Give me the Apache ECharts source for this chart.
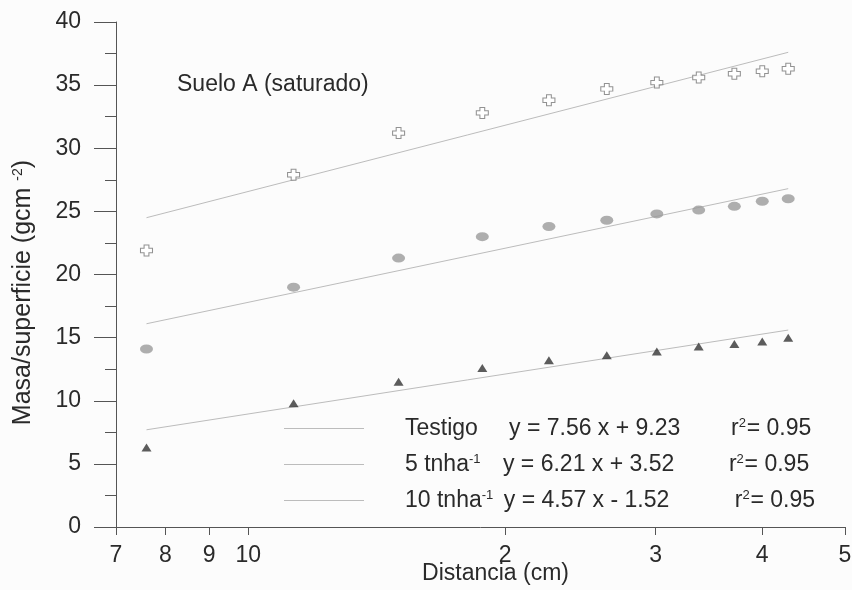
<!DOCTYPE html>
<html>
<head>
<meta charset="utf-8">
<script src="https://cdn.jsdelivr.net/npm/echarts@6/dist/echarts.min.js"></script>
<style>
html,body{margin:0;padding:0;background:#fcfcfc;}
#c{width:852px;height:590px;}
</style>
</head>
<body>
<div id="c"></div>
<script>
// ---- data ----
var distance = [7.6, 11.3, 15.0, 18.8, 22.5, 26.3, 30.1, 33.7, 37.1, 40.0, 42.9];
var testigo  = [21.9, 27.9, 31.2, 32.8, 33.8, 34.7, 35.2, 35.6, 35.9, 36.1, 36.3];
var t5       = [14.1, 19.0, 21.3, 23.0, 23.8, 24.3, 24.8, 25.1, 25.4, 25.8, 26.0];
var t10      = [6.3, 9.8, 11.5, 12.6, 13.2, 13.6, 13.9, 14.3, 14.5, 14.7, 15.0];
var fitX        = [7.6, 42.9];
var fitTestigo  = [24.5, 37.6];
var fit5        = [16.1, 26.8];
var fit10       = [7.7, 15.6];
var xTickValues = [7, 8, 9, 10, 20, 30, 40, 50];
var xTickLabels = ['7', '8', '9', '10', '2', '3', '4', '5'];
var legendNames = ['Testigo', '5 tnha-1', '10 tnha-1'];

function pairs(xs, ys) { return xs.map(function (x, i) { return [x, ys[i]]; }); }

var FONT = 'Liberation Sans';
var TXT = '#2a2a2a';
var FS = 23;
var LINEC = '#bcbcbc';

var chart = echarts.init(document.getElementById('c'), null, {renderer: 'canvas'});

var crossPath = 'path://M3,0L7,0L7,3L10,3L10,7L7,7L7,10L3,10L3,7L0,7L0,3L3,3Z';

var legendRich = {
  n1: {fontFamily: FONT, fontSize: FS, color: TXT, width: 104, padding: [0, 0, 0, 36]},
  n:  {fontFamily: FONT, fontSize: FS, color: TXT, padding: [0, 0, 0, 36]},
  s2: {fontFamily: FONT, fontSize: 13, color: TXT, verticalAlign: 'top', lineHeight: 14, width: 34},
  s3: {fontFamily: FONT, fontSize: 13, color: TXT, verticalAlign: 'top', lineHeight: 14, width: 22},
  e1: {fontFamily: FONT, fontSize: FS, color: TXT, width: 222},
  e2: {fontFamily: FONT, fontSize: FS, color: TXT, width: 226},
  e3: {fontFamily: FONT, fontSize: FS, color: TXT, width: 231},
  r:  {fontFamily: FONT, fontSize: FS, color: TXT},
  s:  {fontFamily: FONT, fontSize: 13, color: TXT, verticalAlign: 'top', lineHeight: 14, width: 8},
  t:  {fontFamily: FONT, fontSize: FS, color: TXT}
};
var legendText = {
  'Testigo':   '{n1|Testigo}{e1|y = 7.56 x + 9.23}{r|r}{s|2}{t|= 0.95}',
  '5 tnha-1':  '{n|5 tnha}{s2|-1}{e2|y = 6.21 x + 3.52}{r|r}{s|2}{t|= 0.95}',
  '10 tnha-1': '{n|10 tnha}{s3|-1}{e3|y = 4.57 x - 1.52}{r|r}{s|2}{t|= 0.95}'
};

var option = {
  backgroundColor: '#fcfcfc',
  animation: false,
  title: {
    text: 'Suelo A (saturado)',
    left: 172, top: 68,
    textStyle: {fontFamily: FONT, fontSize: FS, fontWeight: 'normal', color: TXT}
  },
  grid: {left: 116, right: 7, top: 22, bottom: 63, containLabel: false, outerBoundsMode: 'none'},
  legend: {
    data: legendNames,
    orient: 'vertical',
    left: 279, top: 412,
    icon: 'rect',
    itemWidth: 80, itemHeight: 1, itemGap: 13,
    itemStyle: {color: LINEC, borderWidth: 0},
    formatter: function (name) { return legendText[name]; },
    textStyle: {rich: legendRich, fontFamily: FONT, fontSize: FS, color: TXT},
    selectedMode: false
  },
  xAxis: {
    type: 'log', logBase: 10, min: 7, max: 50,
    name: 'Distancia (cm)', nameLocation: 'middle', nameGap: 35, nameMoveOverlap: false,
    nameTextStyle: {fontFamily: FONT, fontSize: FS, color: TXT, padding: [0, 0, 0, 30]},
    axisLine: {show: true, onZero: false, lineStyle: {color: '#555', width: 1}},
    axisTick: {show: true, inside: false, length: 8, lineStyle: {color: '#555'}, customValues: xTickValues},
    axisLabel: {
      margin: 17, fontFamily: FONT, fontSize: FS, color: TXT,
      customValues: xTickValues,
      formatter: function (v) { var i = xTickValues.indexOf(Math.round(v)); return i >= 0 ? xTickLabels[i] : ''; }
    },
    minorTick: {show: false},
    splitLine: {show: false}
  },
  yAxis: {
    type: 'value', min: 0, max: 40, interval: 5,
    name: '{a|Masa/superficie (gcm }{b|-2}{a|)}', nameLocation: 'middle', nameGap: 80, nameRotate: 90,
    nameMoveOverlap: false,
    nameTextStyle: {
      fontFamily: FONT, fontSize: 25, color: TXT, padding: [0, 36, 0, 0],
      rich: {
        a: {fontFamily: FONT, fontSize: 25, color: TXT},
        b: {fontFamily: FONT, fontSize: 14, color: TXT, verticalAlign: 'top', lineHeight: 14}
      }
    },
    axisLine: {show: true, lineStyle: {color: '#555', width: 1}},
    axisTick: {show: true, inside: false, length: 22, lineStyle: {color: '#555'}},
    minorTick: {show: true, splitNumber: 2, length: 11, lineStyle: {color: '#555'}},
    axisLabel: {margin: 35, fontFamily: FONT, fontSize: FS, color: TXT},
    splitLine: {show: false}
  },
  series: [
    {name: 'Testigo', type: 'line', data: pairs(fitX, fitTestigo), symbol: 'none',
     lineStyle: {color: LINEC, width: 1}, itemStyle: {color: LINEC}, z: 1},
    {name: '5 tnha-1', type: 'line', data: pairs(fitX, fit5), symbol: 'none',
     lineStyle: {color: LINEC, width: 1}, itemStyle: {color: LINEC}, z: 1},
    {name: '10 tnha-1', type: 'line', data: pairs(fitX, fit10), symbol: 'none',
     lineStyle: {color: LINEC, width: 1}, itemStyle: {color: LINEC}, z: 1},
    {name: 'Testigo datos', type: 'scatter', data: pairs(distance, testigo),
     symbol: crossPath, symbolSize: [12, 11],
     itemStyle: {color: '#ffffff', borderColor: '#777', borderWidth: 1}, z: 3},
    {name: '5 datos', type: 'scatter', data: pairs(distance, t5),
     symbol: 'circle', symbolSize: [13, 9],
     itemStyle: {color: '#9a9a9a'}, z: 3},
    {name: '10 datos', type: 'scatter', data: pairs(distance, t10),
     symbol: 'triangle', symbolSize: [10, 8],
     itemStyle: {color: '#333'}, z: 3}
  ]
};
chart.setOption(option);
</script>
</body>
</html>
